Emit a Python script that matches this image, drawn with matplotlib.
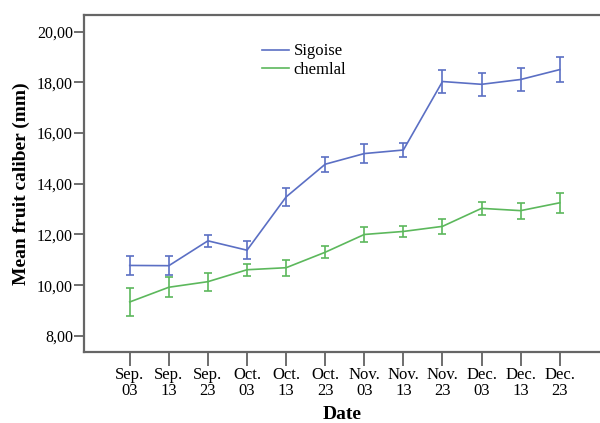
import matplotlib
matplotlib.use("Agg")
import matplotlib.pyplot as plt
from matplotlib.lines import Line2D

# ─── data ───
dates = ["Sep.\n03", "Sep.\n13", "Sep.\n23", "Oct.\n03", "Oct.\n13", "Oct.\n23",
         "Nov.\n03", "Nov.\n13", "Nov.\n23", "Dec.\n03", "Dec.\n13", "Dec.\n23"]
sigoise = [10.78, 10.77, 11.75, 11.38, 13.48, 14.77, 15.19, 15.33, 18.03, 17.92, 18.11, 18.50]
sigoise_err = [0.36, 0.37, 0.24, 0.35, 0.34, 0.29, 0.36, 0.27, 0.46, 0.46, 0.46, 0.48]
chemlal = [9.34, 9.92, 10.14, 10.61, 10.69, 11.30, 12.00, 12.12, 12.32, 13.03, 12.94, 13.25]
chemlal_err = [0.55, 0.40, 0.35, 0.23, 0.32, 0.23, 0.29, 0.23, 0.29, 0.26, 0.32, 0.39]
yticks = [8, 10, 12, 14, 16, 18, 20]

BLUE = "#5b6fc4"
GREEN = "#5cb85c"

plt.rcParams["font.family"] = ["Liberation Serif", "DejaVu Serif"]

fig = plt.figure(figsize=(6, 4.23), dpi=100)
ax = fig.add_axes([0.14, 0.168, 0.86, 0.797])

x = list(range(len(dates)))
ax.errorbar(x, sigoise, yerr=sigoise_err, color=BLUE, lw=1.2,
            elinewidth=1.2, capsize=3, capthick=1.2)
ax.errorbar(x, chemlal, yerr=chemlal_err, color=GREEN, lw=1.2,
            elinewidth=1.2, capsize=3, capthick=1.2)

ax.set_xlim(-1.17, 12.03)
ax.set_ylim(7.37, 20.66)
ax.set_xticks(x)
ax.set_xticklabels(dates, fontsize=12, linespacing=1.0)
ax.set_yticks(yticks)
ax.set_yticklabels([f"{v},00" for v in yticks], fontsize=11.5)
ax.tick_params(axis="x", direction="out", length=10, width=1.2, color="#555555", pad=1)
ax.tick_params(axis="y", direction="out", length=7, width=1.2, color="#555555", pad=1)

for s in ["left", "top", "bottom"]:
    ax.spines[s].set_color("#666666")
    ax.spines[s].set_linewidth(1.6)
ax.spines["right"].set_visible(False)

ax.set_ylabel("Mean fruit caliber (mm)", fontsize=14, fontweight="bold", labelpad=5)
ax.set_xlabel("Date", fontsize=14, fontweight="bold", labelpad=5)

handles = [Line2D([], [], color=BLUE, lw=1.2), Line2D([], [], color=GREEN, lw=1.2)]
ax.legend(handles, ["Sigoise", "chemlal"], loc="upper left",
          bbox_to_anchor=(0.345, 0.915), frameon=False,
          fontsize=12, handlelength=1.6, handletextpad=0.3, labelspacing=0.15,
          borderaxespad=0, borderpad=0)

fig.savefig("out.png", dpi=100)
